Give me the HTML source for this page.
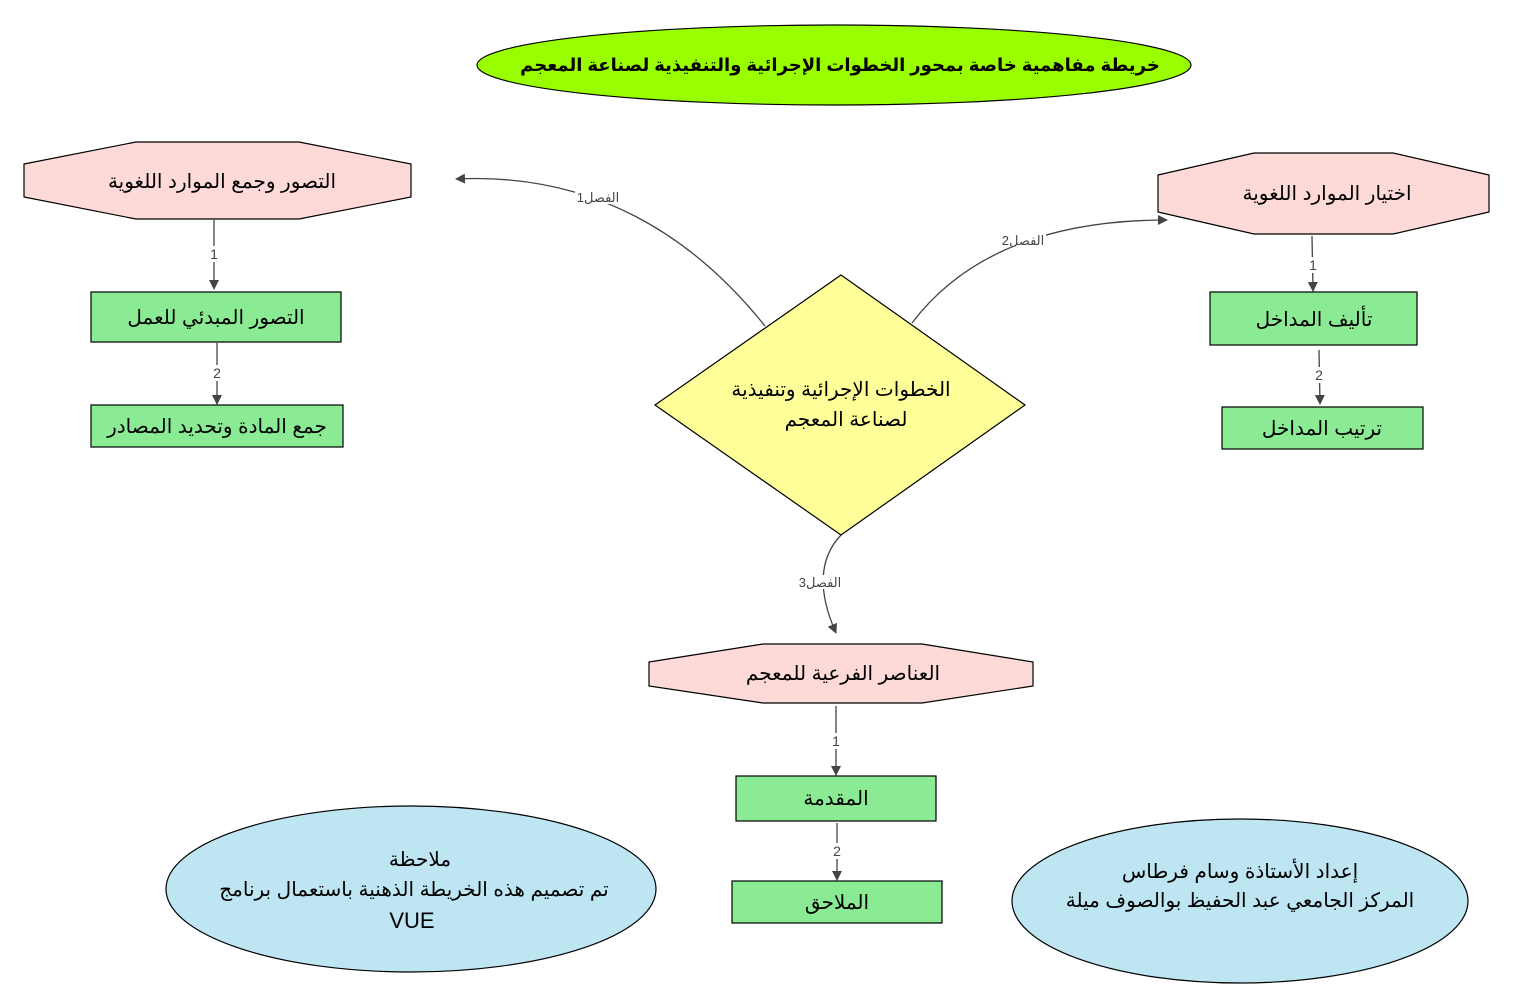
<!DOCTYPE html>
<html><head><meta charset="utf-8"><style>
html,body{margin:0;padding:0;background:#fff;}
svg{display:block;}
text{font-family:"Liberation Sans","DejaVu Sans",sans-serif;}
</style></head><body>
<svg width="1514" height="1008" viewBox="0 0 1514 1008" xmlns="http://www.w3.org/2000/svg">
<defs>
<marker id="a" markerWidth="10" markerHeight="10" refX="9" refY="5" orient="auto" markerUnits="userSpaceOnUse">
<path d="M0,0 L10,5 L0,10 Z" fill="#444"/></marker>
</defs>
<rect width="1514" height="1008" fill="#fff"/>
<ellipse cx="834" cy="65" rx="357" ry="40" fill="#99ff00" stroke="#000" stroke-width="1.2"/>
<text x="840" y="71" font-size="18" font-weight="bold" text-anchor="middle" direction="rtl">خريطة مفاهمية خاصة بمحور الخطوات الإجرائية والتنفيذية لصناعة المعجم</text>

<g fill="none" stroke="#444" stroke-width="1.3">
<path d="M765,326 Q640,170 456,179" marker-end="url(#a)"/>
<path d="M912,323 Q990,220 1167,220" marker-end="url(#a)"/>
<path d="M841,535 Q808,570 836,633" marker-end="url(#a)"/>
<path d="M214,220 L214,289" marker-end="url(#a)"/>
<path d="M217,343 L217,404" marker-end="url(#a)"/>
<path d="M1312,236 L1313,291" marker-end="url(#a)"/>
<path d="M1319,350 L1320,404" marker-end="url(#a)"/>
<path d="M836,706 L836,775" marker-end="url(#a)"/>
<path d="M837,823 L837,880" marker-end="url(#a)"/>
</g>
<g font-size="13" fill="#444" text-anchor="middle">
<rect x="575" y="190" width="46" height="14" fill="#fff"/>
<text x="598" y="202" direction="rtl">الفصل1</text>
<rect x="1000" y="233" width="46" height="14" fill="#fff"/>
<text x="1023" y="245" direction="rtl">الفصل2</text>
<rect x="797" y="575" width="46" height="14" fill="#fff"/>
<text x="820" y="587" direction="rtl">الفصل3</text>
<rect x="207" y="246" width="14" height="16" fill="#fff"/><text x="214" y="259" font-size="14">1</text>
<rect x="210" y="365" width="14" height="16" fill="#fff"/><text x="217" y="378" font-size="14">2</text>
<rect x="1306" y="257" width="14" height="16" fill="#fff"/><text x="1313" y="270" font-size="14">1</text>
<rect x="1312" y="367" width="14" height="16" fill="#fff"/><text x="1319" y="380" font-size="14">2</text>
<rect x="829" y="733" width="14" height="16" fill="#fff"/><text x="836" y="746" font-size="14">1</text>
<rect x="830" y="843" width="14" height="16" fill="#fff"/><text x="837" y="856" font-size="14">2</text>
</g>

<g fill="#fddad8" stroke="#000" stroke-width="1.2">
<polygon points="24,164 136,142 299,142 411,164 411,197 299,219 136,219 24,197"/>
<polygon points="1158,175 1254,153 1393,153 1489,175 1489,212 1393,234 1254,234 1158,212"/>
<polygon points="649,662 763,644 922,644 1033,662 1033,686 922,703 763,703 649,686"/>
</g>
<polygon points="841,275 1025,405 841,535 655,405" fill="#ffff99" stroke="#000" stroke-width="1.2"/>
<g fill="#8aeb94" stroke="#000" stroke-width="1.2">
<rect x="91" y="292" width="250" height="50"/>
<rect x="91" y="405" width="252" height="42"/>
<rect x="1210" y="292" width="207" height="53"/>
<rect x="1222" y="407" width="201" height="42"/>
<rect x="736" y="776" width="200" height="45"/>
<rect x="732" y="881" width="210" height="42"/>
</g>
<g fill="#bee5f2" stroke="#000" stroke-width="1.2">
<ellipse cx="411" cy="889" rx="245" ry="83"/>
<ellipse cx="1240" cy="901" rx="228" ry="82"/>
</g>

<g font-size="20" fill="#000" text-anchor="middle">
<text x="222" y="188" direction="rtl">التصور وجمع الموارد اللغوية</text>
<text x="1327" y="200" direction="rtl">اختيار الموارد اللغوية</text>
<text x="843" y="680" direction="rtl">العناصر الفرعية للمعجم</text>
<text x="216" y="324" direction="rtl">التصور المبدئي للعمل</text>
<text x="217" y="433" direction="rtl">جمع المادة وتحديد المصادر</text>
<text x="1314" y="326" direction="rtl">تأليف المداخل</text>
<text x="1322" y="435" direction="rtl">ترتيب المداخل</text>
<text x="836" y="805" direction="rtl">المقدمة</text>
<text x="837" y="909" direction="rtl">الملاحق</text>
<text x="841" y="396" direction="rtl">الخطوات الإجرائية وتنفيذية</text>
<text x="846" y="426" direction="rtl">لصناعة المعجم</text>
<text x="420" y="866" direction="rtl">ملاحظة</text>
<text x="414" y="896" direction="rtl">تم تصميم هذه الخريطة الذهنية باستعمال برنامج</text>
<text x="412" y="928" font-size="22">VUE</text>
<text x="1240" y="878" direction="rtl">إعداد الأستاذة وسام فرطاس</text>
<text x="1240" y="907" direction="rtl">المركز الجامعي عبد الحفيظ بوالصوف ميلة</text>
</g>
</svg>
</body></html>
